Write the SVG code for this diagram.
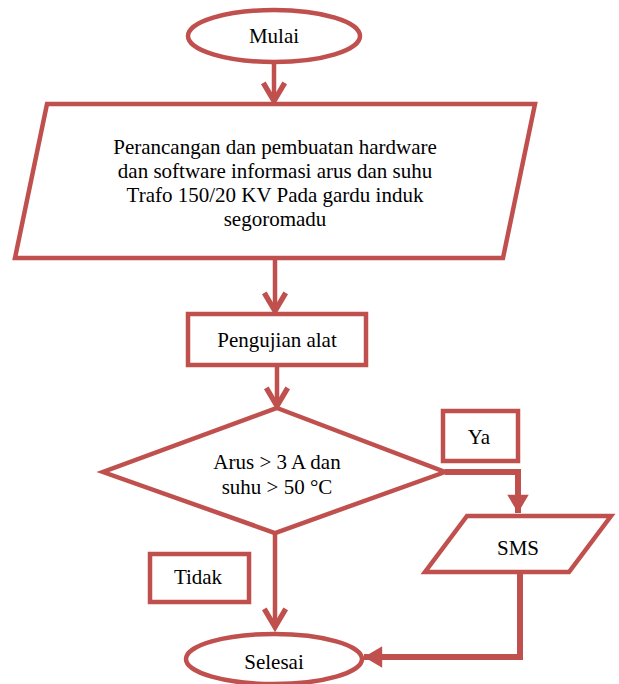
<svg xmlns="http://www.w3.org/2000/svg" width="619" height="684" viewBox="0 0 619 684">
<style>
.s{fill:#fff;stroke:#C0504D;stroke-width:4.5}
.t{font-family:"Liberation Serif","Times New Roman",serif;font-size:21px;fill:#000;text-anchor:middle}
.c{fill:none;stroke:#C0504D;stroke-width:4.5}
.c2{fill:none;stroke:#C0504D;stroke-width:6}
</style>
<defs>
<marker id="chev" markerUnits="userSpaceOnUse" orient="auto" refX="0" refY="0" markerWidth="30" markerHeight="30" viewBox="-22 -14 26 28" overflow="visible">
<path d="M-17 -10 L0 0 L-17 10" fill="none" stroke="#C0504D" stroke-width="5"/>
</marker>
<marker id="tri" markerUnits="userSpaceOnUse" orient="auto" refX="0" refY="0" markerWidth="30" markerHeight="30" viewBox="-22 -14 26 28" overflow="visible">
<path d="M-17 -10 L0 0 L-17 10 Z" fill="#C0504D"/>
</marker>
</defs>
<g id="connectors">
<path class="c" d="M274 62 L274 101" marker-end="url(#chev)"/>
<path class="c" d="M275 258 L275 311" marker-end="url(#chev)"/>
<path class="c" d="M277 366 L277 406" marker-end="url(#chev)"/>
<path class="c2" d="M445 472 L518 472 L518 513" marker-end="url(#tri)"/>
<path class="c" d="M275 533 L275 627" marker-end="url(#chev)"/>
<path class="c2" d="M520 572 L520 657 L364 657" marker-end="url(#tri)"/>
</g>
<g id="mulai">
<ellipse class="s" cx="274" cy="36" rx="86" ry="26"/>
<text class="t" x="274" y="43">Mulai</text>
</g>
<g id="perancangan">
<polygon class="s" stroke-width="5" points="47,104 535,104 503,258 15,258"/>
<text class="t" x="275" y="154">Perancangan dan pembuatan hardware</text>
<text class="t" x="275" y="178">dan software informasi arus dan suhu</text>
<text class="t" x="275" y="202">Trafo 150/20 KV Pada gardu induk</text>
<text class="t" x="275" y="226">segoromadu</text>
</g>
<g id="pengujian">
<rect class="s" stroke-width="5" x="188" y="314" width="178" height="51"/>
<text class="t" x="277" y="347">Pengujian alat</text>
</g>
<g id="keputusan">
<polygon class="s" points="277,408 445,472 275,533 103,472"/>
<text class="t" x="277" y="469">Arus &gt; 3 A dan</text>
<text class="t" x="277" y="494">suhu &gt; 50 °C</text>
</g>
<g id="ya">
<rect class="s" stroke-width="5" x="443" y="411" width="75" height="50"/>
<text class="t" x="479" y="444">Ya</text>
</g>
<g id="sms">
<polygon class="s" stroke-width="7" points="467,516 611,516 569,572 425,572"/>
<text class="t" x="518" y="555">SMS</text>
</g>
<g id="tidak">
<rect class="s" stroke-width="5" x="150" y="554" width="99" height="48"/>
<text class="t" x="198" y="584">Tidak</text>
</g>
<g id="selesai">
<ellipse class="s" cx="274" cy="659" rx="88" ry="25"/>
<text class="t" x="274" y="669">Selesai</text>
</g>
</svg>
